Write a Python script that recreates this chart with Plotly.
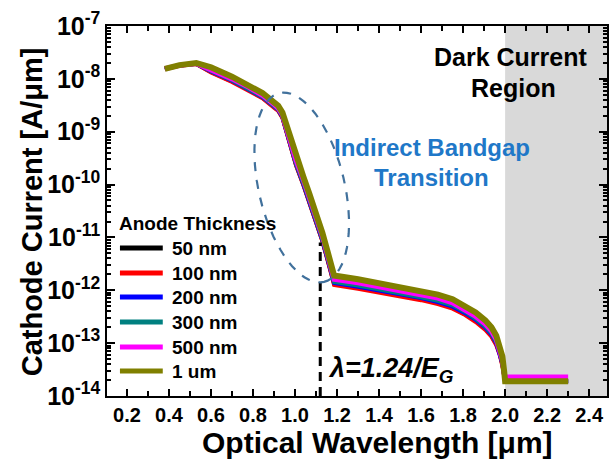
import math
import plotly.graph_objects as go

# ---------------- data ----------------
wavelength = [0.38, 0.45, 0.53, 0.60, 0.70, 0.78, 0.845, 0.90, 0.92, 0.94,
              0.97, 1.005, 1.04, 1.067, 1.10, 1.13, 1.155, 1.176,
              1.186, 1.30, 1.40, 1.50, 1.60, 1.68, 1.75, 1.81, 1.86, 1.906,
              1.935, 1.958, 1.975, 1.987, 1.996, 2.0, 2.15, 2.3]

i_50nm = [1.55e-8, 1.78e-8, 1.92e-8, 1.35e-8, 8.9e-9, 6.2e-9, 4.4e-9, 2.9e-9, 2.52e-9, 1.87e-9,
          6.7e-10, 2.34e-10, 9.9e-11, 4.9e-11, 2.12e-11, 8.7e-12, 3.8e-12, 1.73e-12,
          1.31e-12, 1.12e-12, 9.5e-13, 8.1e-13, 6.8e-13, 5.7e-13, 4.7e-13, 3.5e-13, 2.63e-13, 1.87e-13,
          1.38e-13, 9.5e-14, 6.2e-14, 3.9e-14, 2.3e-14, 1.9e-14, 1.9e-14, 1.9e-14]
i_100nm = [1.55e-8, 1.77e-8, 1.91e-8, 1.32e-8, 8.7e-9, 6.0e-9, 4.3e-9, 2.86e-9, 2.46e-9, 1.83e-9,
           6.6e-10, 2.28e-10, 9.7e-11, 4.8e-11, 2.08e-11, 8.5e-12, 3.7e-12, 1.70e-12,
           1.26e-12, 1.07e-12, 9.1e-13, 7.7e-13, 6.5e-13, 5.5e-13, 4.5e-13, 3.4e-13, 2.51e-13, 1.78e-13,
           1.32e-13, 9.1e-14, 5.9e-14, 3.7e-14, 2.3e-14, 1.9e-14, 1.9e-14, 1.9e-14]
i_200nm = [1.55e-8, 1.78e-8, 1.93e-8, 1.38e-8, 9.2e-9, 6.3e-9, 4.5e-9, 3.0e-9, 2.58e-9, 1.91e-9,
           6.9e-10, 2.4e-10, 1.01e-10, 5.0e-11, 2.17e-11, 8.9e-12, 3.9e-12, 1.77e-12,
           1.38e-12, 1.17e-12, 1.0e-12, 8.5e-13, 7.1e-13, 6.0e-13, 4.9e-13, 3.7e-13, 2.75e-13, 1.95e-13,
           1.45e-13, 1.0e-13, 6.4e-14, 4.1e-14, 2.4e-14, 1.9e-14, 1.9e-14, 1.9e-14]
i_300nm = [1.55e-8, 1.79e-8, 1.94e-8, 1.41e-8, 9.4e-9, 6.5e-9, 4.6e-9, 3.06e-9, 2.64e-9, 1.96e-9,
           7.2e-10, 2.5e-10, 1.06e-10, 5.2e-11, 2.28e-11, 9.3e-12, 4.1e-12, 1.86e-12,
           1.44e-12, 1.23e-12, 1.05e-12, 8.9e-13, 7.4e-13, 6.3e-13, 5.2e-13, 3.9e-13, 2.9e-13, 2.05e-13,
           1.52e-13, 1.05e-13, 6.8e-14, 4.3e-14, 2.5e-14, 1.9e-14, 1.9e-14, 1.9e-14]
i_500nm = [1.55e-8, 1.80e-8, 1.96e-8, 1.51e-8, 1.00e-8, 6.9e-9, 4.9e-9, 3.3e-9, 2.8e-9, 2.1e-9,
           8.3e-10, 2.9e-10, 1.22e-10, 6.0e-11, 2.6e-11, 1.07e-11, 4.7e-12, 2.13e-12,
           1.62e-12, 1.38e-12, 1.17e-12, 1.0e-12, 8.3e-13, 7.1e-13, 5.8e-13, 4.3e-13, 3.2e-13, 2.3e-13,
           1.70e-13, 1.17e-13, 7.6e-14, 4.8e-14, 2.6e-14, 2.3e-14, 2.3e-14, 2.3e-14]
i_1um = [1.55e-8, 1.82e-8, 2.0e-8, 1.66e-8, 1.10e-8, 7.6e-9, 5.4e-9, 3.6e-9, 3.1e-9, 2.3e-9,
         9.5e-10, 3.3e-10, 1.4e-10, 6.9e-11, 3.0e-11, 1.23e-11, 5.4e-12, 2.45e-12,
         1.9e-12, 1.62e-12, 1.38e-12, 1.17e-12, 9.8e-13, 8.3e-13, 6.8e-13, 5.1e-13, 3.8e-13, 2.7e-13,
         2.0e-13, 1.38e-13, 8.9e-14, 5.6e-14, 2.8e-14, 1.9e-14, 1.9e-14, 1.9e-14]

series_names = ["50 nm", "100 nm", "200 nm", "300 nm", "500 nm", "1 um"]
series_values = [i_50nm, i_100nm, i_200nm, i_300nm, i_500nm, i_1um]
series_colors = ["#000000", "#FF0000", "#0000FF", "#008080", "#FF00FF", "#808000"]
series_widths = [4, 4, 4, 4, 5, 6]

bandgap_wavelength = 1.12
bandgap_line_current = [1e-14, 8e-12]
dark_region = [2.0, 2.485]

x_tick_values = [0.2, 0.4, 0.6, 0.8, 1.0, 1.2, 1.4, 1.6, 1.8, 2.0, 2.2, 2.4]
x_tick_labels = ["0.2", "0.4", "0.6", "0.8", "1.0", "1.2", "1.4", "1.6", "1.8", "2.0", "2.2", "2.4"]
y_tick_values = [1e-14, 1e-13, 1e-12, 1e-11, 1e-10, 1e-9, 1e-8, 1e-7]
y_tick_labels = ["10<sup>-14</sup>", "10<sup>-13</sup>", "10<sup>-12</sup>", "10<sup>-11</sup>",
                 "10<sup>-10</sup>", "10<sup>-9</sup>", "10<sup>-8</sup>", "10<sup>-7</sup>"]

# ---------------- layout geometry ----------------
W, H = 613, 467
ML, MR, MT, MB = 107, 4, 26, 71
PW, PH = W - ML - MR, H - MT - MB
FONT = "Liberation Sans, Arial, sans-serif"


def px2paper_x(px):
    return (px - ML) / PW


def px2paper_y(py):
    return (MT + PH - py) / PH


fig = go.Figure()

for name, vals, col, lw in zip(series_names, series_values, series_colors, series_widths):
    fig.add_trace(go.Scatter(x=wavelength, y=vals, mode="lines", name=name, showlegend=False,
                             line=dict(color=col, width=lw)))

fig.add_trace(go.Scatter(x=[bandgap_wavelength, bandgap_wavelength], y=bandgap_line_current,
                         mode="lines", showlegend=False, hoverinfo="skip",
                         line=dict(color="black", width=3, dash="9px,6px")))

# gray dark-current region
fig.add_shape(type="rect", xref="x", yref="paper", x0=dark_region[0], x1=dark_region[1],
              y0=0, y1=1, fillcolor="#D9D9D9", line=dict(width=0), layer="below")

# tilted dashed ellipse (pixel geometry -> paper coords)
cx, cy = 302.5, 187.5
a, b = 97.0, 43.0
ux, uy = 45 / 194.3, 189 / 194.3
vx, vy = uy, -ux
pts = []
for k in range(73):
    t = 2 * math.pi * k / 72
    px = cx + a * math.cos(t) * ux + b * math.sin(t) * vx
    py = cy + a * math.cos(t) * uy + b * math.sin(t) * vy
    pts.append((px2paper_x(px), px2paper_y(py)))
path = "M " + " L ".join(f"{x:.4f},{y:.4f}" for x, y in pts) + " Z"
fig.add_shape(type="path", xref="paper", yref="paper", path=path,
              line=dict(color="#41719C", width=2.2, dash="dash"))


def add_text(text, px, py, size, color="black", xanchor="center", angle=0):
    fig.add_annotation(text=text, xref="paper", yref="paper",
                       x=px2paper_x(px), y=px2paper_y(py), xanchor=xanchor, yanchor="middle",
                       showarrow=False, textangle=angle,
                       font=dict(family=FONT, size=size, color=color))


add_text("<b>Dark Current</b>", 512, 57, 25)
add_text("<b>Region</b>", 515, 88, 25)
add_text("<b>Indirect Bandgap</b>", 433, 147, 24, color="#1F78C8")
add_text("<b>Transition</b>", 433, 177, 24, color="#1F78C8")
add_text("<b><i>λ=1.24/E<sub>G</sub></i></b>", 327, 370, 27, xanchor="left")
add_text("<b>Optical Wavelength [μm]</b>", 379, 442, 30)
add_text("<b>Cathode Current [A/μm]</b>", 32, 212, 29, angle=-90)

# legend (drawn manually to match sample length)
add_text("<b>Anode Thickness</b>", 117, 223, 19, xanchor="left")
legend_rows = [248, 273, 297, 322, 347, 371]
for name, col, row in zip(series_names, series_colors, legend_rows):
    fig.add_shape(type="line", xref="paper", yref="paper",
                  x0=px2paper_x(120), x1=px2paper_x(163), y0=px2paper_y(row), y1=px2paper_y(row),
                  line=dict(color=col, width=5))
    add_text(f"<b>{name}</b>", 170, row, 19, xanchor="left")

fig.update_layout(
    width=W, height=H,
    margin=dict(l=ML, r=MR, t=MT, b=MB),
    paper_bgcolor="white", plot_bgcolor="white",
    font=dict(family=FONT, color="black"),
    showlegend=False,
)

fig.update_xaxes(range=[0.105, 2.485], showgrid=False, zeroline=False,
                 showline=True, linecolor="black", linewidth=1.5, mirror="ticks",
                 ticks="inside", ticklen=7, tickwidth=1.5, tickcolor="black",
                 tickvals=x_tick_values, ticktext=x_tick_labels,
                 tickfont=dict(family=FONT, size=20, weight="bold"),
                 minor=dict(ticks="inside", ticklen=5, dtick=0.1, tick0=0.1, tickcolor="black"))
fig.update_yaxes(type="log", range=[-14, -7], showgrid=False, zeroline=False,
                 showline=True, linecolor="black", linewidth=1.5, mirror="ticks",
                 ticks="inside", ticklen=8, tickwidth=1.5, tickcolor="black",
                 tickvals=y_tick_values, ticktext=y_tick_labels,
                 tickfont=dict(family=FONT, size=25, weight="bold"),
                 minor=dict(ticks="inside", ticklen=4, dtick="D1", tickcolor="black"))

fig.write_html("out.html", config={"displayModeBar": False},
               post_script="document.body.style.margin='0px';")
